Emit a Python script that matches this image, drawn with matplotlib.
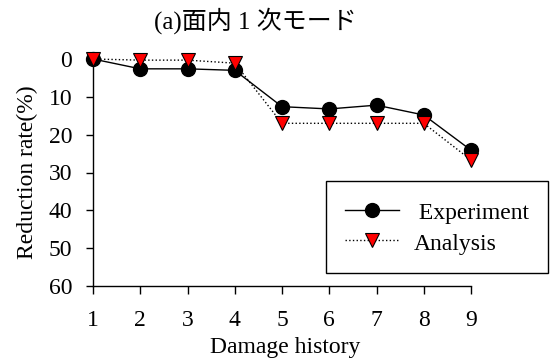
import matplotlib
matplotlib.use("Agg")
import matplotlib.pyplot as plt

plt.rcParams['font.family'] = ['Liberation Serif', 'Noto Sans CJK JP']

# data
damage_history = [1, 2, 3, 4, 5, 6, 7, 8, 9]
experiment = [0, 2.6, 2.6, 3.0, 12.6, 13.2, 12.2, 14.8, 24.1]
analysis = [0, 0.3, 0.3, 1.1, 17.0, 17.0, 17.0, 17.0, 26.7]
x_ticks = [1, 2, 3, 4, 5, 6, 7, 8, 9]
y_ticks = [0, 10, 20, 30, 40, 50, 60]

fig = plt.figure(figsize=(5.52, 3.61), dpi=100)
ax = fig.add_axes([93 / 552, 1 - 286 / 361, 378 / 552, 227 / 361])

ax.plot(damage_history, experiment, color='black', linewidth=1.0,
        marker='o', markersize=10, markerfacecolor='black',
        markeredgecolor='black', label=' Experiment', clip_on=False, zorder=3)
ax.plot(damage_history, analysis, color='black', linewidth=1.0, linestyle=':',
        marker='v', markersize=9.5, markerfacecolor='red',
        markeredgecolor='black', markeredgewidth=0.8, label='Analysis',
        clip_on=False, zorder=4)

ax.set_xlim(1, 9)
ax.set_ylim(60, 0)
ax.set_xticks(x_ticks)
ax.set_yticks(y_ticks)
ax.spines['top'].set_visible(False)
ax.spines['right'].set_visible(False)
ax.spines['left'].set_linewidth(1.0)
ax.spines['bottom'].set_linewidth(1.0)
ax.tick_params(axis='x', direction='out', length=6, width=1, pad=11, labelsize=17)
ax.tick_params(axis='y', direction='out', length=5, width=1, pad=10, labelsize=17)

fig.text(285 / 552, 1 - 348 / 361, 'Damage history', ha='center', va='center', fontsize=17)
fig.text(27 / 552, 1 - 172 / 361, 'Reduction rate(%)', ha='center', va='center',
         rotation=90, fontsize=17)
fig.text(255 / 552, 1 - 21 / 361, '(a)面内 1 次モード', ha='center', va='center', fontsize=18)

leg = ax.legend(loc='upper left', bbox_to_anchor=(326 / 552, 1 - 181 / 361),
                bbox_transform=fig.transFigure, fontsize=17, frameon=True,
                fancybox=False, edgecolor='black', framealpha=1,
                handlelength=2.3, handleheight=1.1, handletextpad=0.6,
                labelspacing=0.25, borderpad=0.8, borderaxespad=0)
leg.get_frame().set_linewidth(1.0)

fig.savefig('out.png', dpi=100)
